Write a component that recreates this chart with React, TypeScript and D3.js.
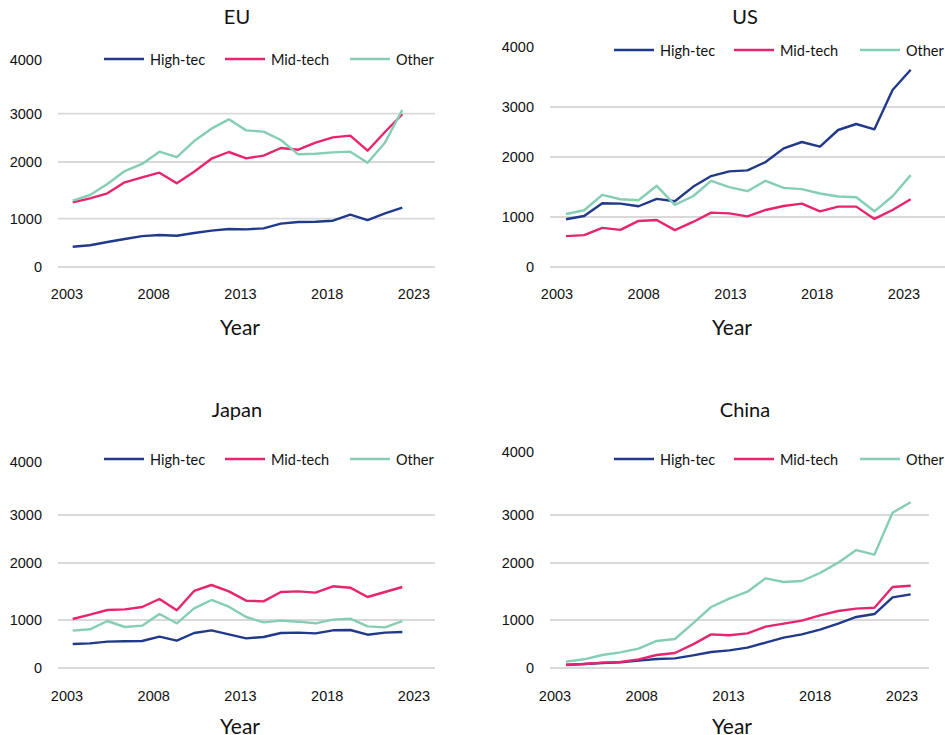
import React from 'react';
import * as d3 from 'd3';

const years = [2004, 2005, 2006, 2007, 2008, 2009, 2010, 2011, 2012, 2013, 2014, 2015, 2016, 2017, 2018, 2019, 2020, 2021, 2022, 2023];
const seriesNames = ['High-tec', 'Mid-tech', 'Other'];
const xTickYears = [2003, 2008, 2013, 2018, 2023];
const yTicks = [0, 1000, 2000, 3000, 4000];

const euHigh = [420, 450, 517, 580, 640, 662, 648, 703, 752, 786, 779, 800, 897, 931, 938, 959, 1071, 972, 1094, 1194];
const euMid = [1288, 1359, 1447, 1641, 1729, 1812, 1624, 1829, 2069, 2207, 2076, 2131, 2290, 2255, 2400, 2510, 2545, 2234, 2621, 2988];
const euOther = [1318, 1418, 1612, 1841, 1965, 2214, 2103, 2434, 2690, 2883, 2655, 2628, 2455, 2159, 2172, 2200, 2214, 1988, 2400, 3069];

const usHigh = [954, 1017, 1229, 1223, 1179, 1302, 1263, 1503, 1682, 1760, 1777, 1916, 2173, 2300, 2207, 2540, 2660, 2553, 3283, 3622];
const usMid = [618, 638, 783, 743, 921, 941, 737, 901, 1073, 1061, 1011, 1117, 1184, 1223, 1095, 1173, 1173, 961, 1117, 1296];
const usOther = [1050, 1112, 1369, 1296, 1279, 1520, 1201, 1346, 1603, 1497, 1430, 1603, 1486, 1464, 1391, 1341, 1330, 1095, 1346, 1698];

const jpHigh = [500, 514, 549, 556, 563, 653, 569, 729, 785, 701, 618, 646, 729, 736, 722, 785, 792, 694, 736, 750];
const jpMid = [1018, 1094, 1175, 1187, 1228, 1368, 1170, 1509, 1614, 1503, 1339, 1327, 1491, 1503, 1480, 1591, 1567, 1404, 1491, 1579];
const jpOther = [778, 806, 979, 854, 882, 1105, 931, 1205, 1351, 1234, 1053, 951, 986, 965, 931, 1006, 1023, 868, 847, 979];

const cnHigh = [63, 83, 104, 118, 153, 188, 201, 264, 333, 368, 424, 528, 632, 701, 799, 924, 1053, 1105, 1398, 1450];
const cnMid = [69, 83, 111, 125, 181, 271, 313, 493, 701, 681, 722, 861, 924, 986, 1082, 1158, 1199, 1216, 1579, 1602];
const cnOther = [132, 181, 271, 326, 403, 563, 604, 931, 1228, 1374, 1497, 1731, 1667, 1684, 1825, 2007, 2270, 2174, 3037, 3202];

const colors = ['#21398a', '#e8246e', '#85cdb4'];

const panels = [
  { name: 'EU', data: [euHigh, euMid, euOther], titleX: 237, titleY: 16, legendY: 59, legendX: [104, 225, 350], yLabelX: 42, grid: [58, 435], yR: [267, 218.7, 162, 113.7, 60], xLabelY: 294, xTickR: [67, 414], xDataR: [72.7, 402.3], yearX: 240, yearY: 326 },
  { name: 'US', data: [usHigh, usMid, usOther], titleX: 745, titleY: 16, legendY: 50, legendX: [614, 734, 860], yLabelX: 534, grid: [550, 945], yR: [267, 217, 157, 107, 47], xLabelY: 294, xTickR: [557, 904], xDataR: [566, 910.7], yearX: 732, yearY: 326 },
  { name: 'Japan', data: [jpHigh, jpMid, jpOther], titleX: 237, titleY: 409, legendY: 459, legendX: [104, 225, 350], yLabelX: 42, grid: [58, 435], yR: [668, 620, 563, 515, 461.7], xLabelY: 695.5, xTickR: [67, 414], xDataR: [72.7, 402.3], yearX: 240, yearY: 725 },
  { name: 'China', data: [cnHigh, cnMid, cnOther], titleX: 745, titleY: 409, legendY: 459, legendX: [614, 734, 860], yLabelX: 534, grid: [550, 929], yR: [668, 620, 563, 515, 452], xLabelY: 695.5, xTickR: [555, 902], xDataR: [566, 910.7], yearX: 732, yearY: 725 },
];

const titleFont = 'Lato, "Open Sans", sans-serif';
const tickFont = '"Liberation Sans", Arial, sans-serif';

function Panel({ p }: { p: any }) {
  const y = d3.scaleLinear().domain(yTicks).range(p.yR);
  const xTick = d3.scaleLinear().domain([xTickYears[0], xTickYears[xTickYears.length - 1]]).range(p.xTickR);
  const xData = d3.scaleLinear().domain([years[0], years[years.length - 1]]).range(p.xDataR);
  const line = d3.line<number>().x((_, i) => xData(years[i])).y((d) => y(d));
  return (
    <g>
      <text x={p.titleX} y={p.titleY} textAnchor="middle" dominantBaseline="central" fontFamily={titleFont} fontSize={20} fill="#111">{p.name}</text>
      {yTicks.filter((t) => t < 4000).map((t) => (
        <line key={'g' + t} x1={p.grid[0]} x2={p.grid[1]} y1={y(t)} y2={y(t)} stroke="#d9d9d9" strokeWidth={1.8} />
      ))}
      {yTicks.map((t) => (
        <text key={'yl' + t} x={p.yLabelX} y={y(t)} textAnchor="end" dominantBaseline="central" fontFamily={tickFont} fontSize={14.5} fill="#111">{t}</text>
      ))}
      {xTickYears.map((t) => (
        <text key={'xl' + t} x={xTick(t)} y={p.xLabelY} textAnchor="middle" dominantBaseline="central" fontFamily={tickFont} fontSize={14.5} fill="#111">{t}</text>
      ))}
      <text x={p.yearX} y={p.yearY} textAnchor="middle" dominantBaseline="central" fontFamily={titleFont} fontSize={21} fill="#111">Year</text>
      {p.data.map((s: number[], i: number) => (
        <path key={'s' + i} d={line(s) || ''} fill="none" stroke={colors[i]} strokeWidth={2.4} strokeLinejoin="round" />
      ))}
      {seriesNames.map((n, i) => (
        <g key={'lg' + i}>
          <line x1={p.legendX[i]} x2={p.legendX[i] + 40} y1={p.legendY} y2={p.legendY} stroke={colors[i]} strokeWidth={2.6} />
          <text x={p.legendX[i] + 46} y={p.legendY} dominantBaseline="central" fontFamily={titleFont} fontSize={14.5} fill="#111">{n}</text>
        </g>
      ))}
    </g>
  );
}

export default function App() {
  return (
    <svg width={945} height={735} style={{ position: 'absolute', left: 0, top: 0, background: '#fff' }}>
      <rect width={945} height={735} fill="#fff" />
      {panels.map((p) => (
        <Panel key={p.name} p={p} />
      ))}
    </svg>
  );
}
